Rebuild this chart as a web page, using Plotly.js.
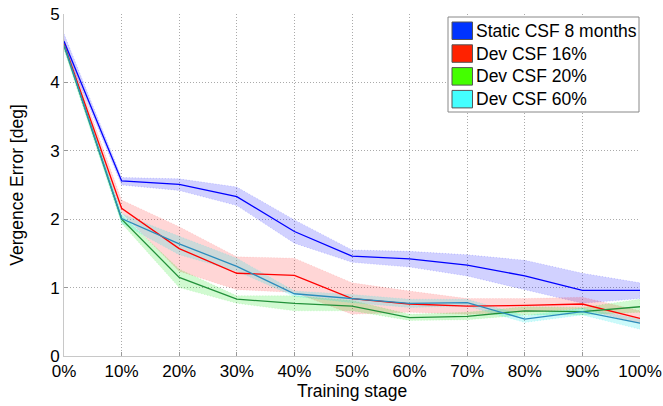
<!DOCTYPE html>
<html>
<head>
<meta charset="utf-8">
<script src="https://cdn.plot.ly/plotly-3.0.1.min.js"></script>
<style>html,body{margin:0;padding:0;background:#fff;}#chart{width:663px;height:406px;}</style>
</head>
<body>
<div id="chart"></div>
<script>
// Training stages (%)
var stages = [0, 10, 20, 30, 40, 50, 60, 70, 80, 90, 100];
var tickLabels = ['0%','10%','20%','30%','40%','50%','60%','70%','80%','90%','100%'];

// Static CSF 8 months
var staticMean  = [4.60, 2.56, 2.51, 2.33, 1.82, 1.46, 1.42, 1.33, 1.17, 0.96, 0.96];
var staticUpper = [4.71, 2.61, 2.59, 2.47, 1.99, 1.55, 1.53, 1.48, 1.40, 1.21, 1.07];
var staticLower = [4.53, 2.50, 2.42, 2.20, 1.65, 1.37, 1.30, 1.17, 0.97, 0.77, 0.84];

// Dev CSF 16%
var dev16Mean  = [4.56, 2.16, 1.57, 1.21, 1.18, 0.84, 0.76, 0.73, 0.74, 0.76, 0.55];
var dev16Upper = [4.63, 2.28, 1.89, 1.45, 1.43, 1.07, 0.95, 0.84, 0.84, 0.86, 0.66];
var dev16Lower = [4.50, 2.09, 1.24, 0.97, 0.93, 0.61, 0.64, 0.61, 0.64, 0.69, 0.47];

// Dev CSF 20%
var dev20Mean  = [4.54, 2.00, 1.15, 0.83, 0.77, 0.73, 0.56, 0.58, 0.66, 0.65, 0.72];
var dev20Upper = [4.60, 2.06, 1.27, 0.88, 0.88, 0.81, 0.61, 0.64, 0.72, 0.71, 0.83];
var dev20Lower = [4.48, 1.94, 1.00, 0.77, 0.66, 0.66, 0.52, 0.53, 0.60, 0.60, 0.64];

// Dev CSF 60%
var dev60Mean  = [4.55, 2.01, 1.64, 1.31, 0.91, 0.84, 0.77, 0.78, 0.54, 0.65, 0.48];
var dev60Upper = [4.62, 2.08, 1.75, 1.43, 0.95, 0.90, 0.83, 0.83, 0.59, 0.70, 0.54];
var dev60Lower = [4.49, 1.94, 1.48, 1.24, 0.87, 0.78, 0.71, 0.73, 0.49, 0.60, 0.39];

var seriesNames = ['Static CSF 8 months', 'Dev CSF 16%', 'Dev CSF 20%', 'Dev CSF 60%'];

var series = [
  {name: seriesNames[0], mean: staticMean, up: staticUpper, lo: staticLower, line: '#0000ff', band: 'rgba(0,0,255,0.18)', bandLine: 'rgba(0,0,255,0.35)', legend: '#0033ff'},
  {name: seriesNames[1], mean: dev16Mean, up: dev16Upper, lo: dev16Lower, line: '#ff0000', band: 'rgba(255,0,0,0.16)', bandLine: 'rgba(255,0,0,0.25)', legend: '#ff2200'},
  {name: seriesNames[2], mean: dev20Mean, up: dev20Upper, lo: dev20Lower, line: '#22913a', band: 'rgba(0,230,0,0.18)', bandLine: 'rgba(0,230,0,0.3)', legend: '#44ff00'},
  {name: seriesNames[3], mean: dev60Mean, up: dev60Upper, lo: dev60Lower, line: '#2b8cbc', band: 'rgba(0,230,230,0.2)', bandLine: 'rgba(0,230,230,0.35)', legend: '#44ffff'}
];

var traces = [];
series.forEach(function(s){
  traces.push({
    x: stages.concat(stages.slice().reverse()),
    y: s.up.concat(s.lo.slice().reverse()),
    type: 'scatter', mode: 'lines', fill: 'toself',
    fillcolor: s.band, line: {color: s.bandLine, width: 0.5, dash: '1px,2px'},
    showlegend: false, hoverinfo: 'skip'
  });
});
series.forEach(function(s){
  traces.push({
    x: stages, y: s.mean, type: 'scatter', mode: 'lines', name: s.name,
    line: {color: s.line, width: 1.3}, showlegend: false
  });
});

// Custom legend box (MATLAB style), positioned in pixels then converted to paper coords
var W = 663, H = 406, mL = 64, mR = 23, mT = 14, mB = 50;
var pw = W - mL - mR, ph = H - mT - mB;
function px(X){ return (X - mL) / pw; }
function py(Y){ return (H - mB - Y) / ph; }

var shapes = [{
  type: 'rect', xref: 'paper', yref: 'paper',
  x0: px(448), x1: px(639), y0: py(112), y1: py(17),
  fillcolor: '#fff', line: {color: '#888', width: 1}, layer: 'above'
}];
var annotations = [];
var rowTop = 22, rowStep = 22.8, swH = 17.5;
series.forEach(function(s, i){
  var top = rowTop + i * rowStep;
  shapes.push({
    type: 'rect', xref: 'paper', yref: 'paper',
    x0: px(452), x1: px(472.5), y0: py(top + swH), y1: py(top),
    fillcolor: s.legend, line: {color: '#555', width: 1}, layer: 'above'
  });
  annotations.push({
    xref: 'paper', yref: 'paper', x: px(473.5), y: py(top + swH / 2),
    xanchor: 'left', yanchor: 'middle', showarrow: false,
    text: s.name, font: {size: 17.5, color: '#000'}
  });
});

var layout = {
  width: W, height: H,
  margin: {l: mL, r: mR, t: mT, b: mB},
  paper_bgcolor: '#fff', plot_bgcolor: '#fff',
  font: {family: 'Liberation Sans, Arial, sans-serif', size: 17, color: '#000'},
  showlegend: false,
  shapes: shapes,
  annotations: annotations,
  xaxis: {
    range: [0, 100], tickvals: stages, ticktext: tickLabels,
    showgrid: true, gridcolor: '#aaaaaa', griddash: '1px,2px', gridwidth: 1,
    zeroline: false, showline: true, linecolor: '#c8c8c8', linewidth: 1,
    ticks: 'inside', ticklen: 4, tickcolor: '#999',
    tickfont: {size: 17},
    title: {text: 'Training stage', font: {size: 17.5}, standoff: 2}
  },
  yaxis: {
    range: [0, 5], tickvals: [0,1,2,3,4,5],
    showgrid: true, gridcolor: '#aaaaaa', griddash: '1px,2px', gridwidth: 1,
    zeroline: false, showline: true, linecolor: '#c8c8c8', linewidth: 1,
    ticks: 'inside', ticklen: 4, tickcolor: '#999',
    tickfont: {size: 17},
    title: {text: 'Vergence Error [deg]', font: {size: 17.5}, standoff: 22}
  }
};

Plotly.newPlot('chart', traces, layout, {displayModeBar: false, staticPlot: true});
</script>
</body>
</html>
